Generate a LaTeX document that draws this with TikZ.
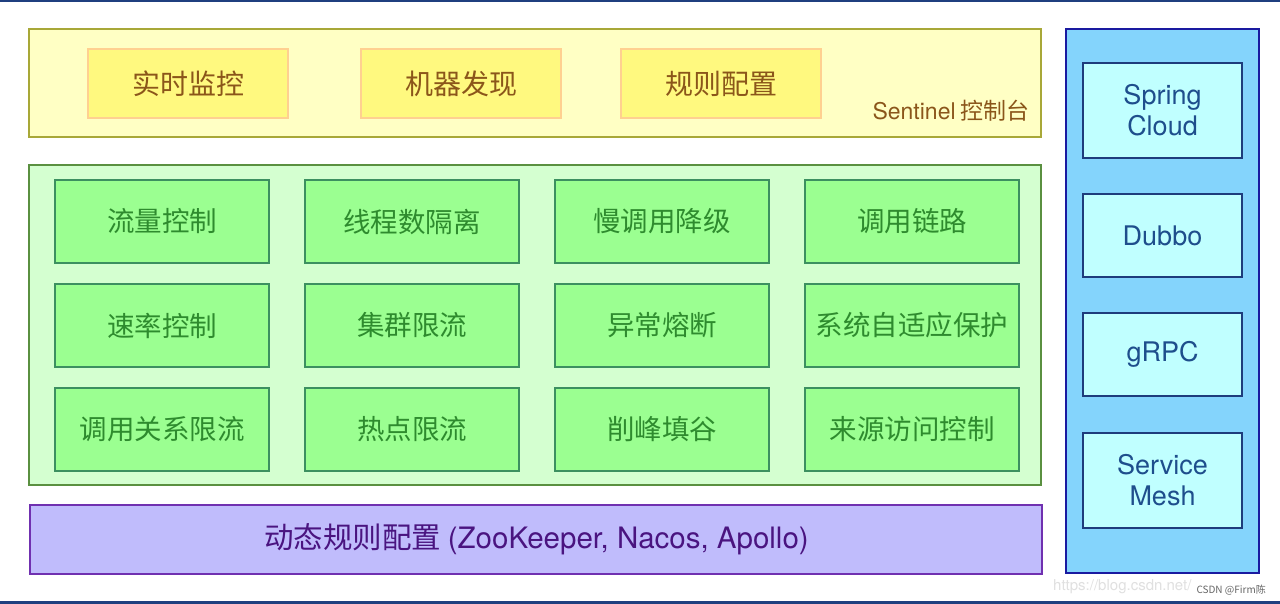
\documentclass[tikz,border=0pt]{standalone}
\usepackage{fontspec}
\setmainfont{Noto Sans CJK SC}
\newfontfamily\lat{TeX Gyre Heros}
\begin{document}
\begin{tikzpicture}[x=1pt,y=-1pt,
  ybox/.style={draw=ybd, fill=yin, line width=1.4pt, minimum width=200pt, minimum height=69pt, text=ytx, font=\fontsize{28}{30}\selectfont, inner sep=0pt},
  gbox/.style={draw=gbd, fill=gin, line width=1.4pt, minimum width=214pt, minimum height=83pt, text=gtx, font=\fontsize{27.5}{30}\selectfont, inner sep=0pt},
  bbox/.style={draw=bbd, fill=bin, line width=1.4pt, minimum width=159pt, text=btx, font=\lat\fontsize{27}{31}\selectfont, align=center, inner sep=0pt},
]
\definecolor{yout}{HTML}{FFFFC4}\definecolor{yobd}{HTML}{A8A838}
\definecolor{yin}{HTML}{FFF97F}\definecolor{ybd}{HTML}{FFD090}\definecolor{ytx}{HTML}{8B561A}
\definecolor{gout}{HTML}{D4FFD0}\definecolor{gobd}{HTML}{5A9040}
\definecolor{gin}{HTML}{9BFF91}\definecolor{gbd}{HTML}{3C9060}\definecolor{gtx}{HTML}{2E8B2E}
\definecolor{pin}{HTML}{C0BCFC}\definecolor{pbd}{HTML}{7030B0}\definecolor{ptx}{HTML}{4A1480}
\definecolor{bout}{HTML}{84D4FC}\definecolor{bobd}{HTML}{1A1AA0}
\definecolor{bin}{HTML}{C0FFFF}\definecolor{bbd}{HTML}{1E3C7C}\definecolor{btx}{HTML}{1E4E8C}
\definecolor{edge}{HTML}{1F3F7F}

\useasboundingbox (0,0) rectangle (1280,604);
\fill[white] (0,0) rectangle (1280,604);
\fill[edge] (0,0) rectangle (1280,2.5);
\fill[edge] (0,601) rectangle (1280,604);

% Sentinel console
\draw[draw=yobd, fill=yout, line width=1.6pt] (29,29) rectangle (1041,137);
\node[ybox] (mon) at (188,83.5) {实时监控};
\node[ybox] (disc) at (461,83.5) {机器发现};
\node[ybox] (rule) at (721,83.5) {规则配置};
\node[anchor=east, text=ytx, font=\fontsize{23}{26}\selectfont, inner sep=0pt] (console) at (1030,111) {{\lat Sentinel} 控制台};

% core features
\draw[draw=gobd, fill=gout, line width=1.6pt] (29,165) rectangle (1041,485);
\foreach \t [count=\i from 0] in {流量控制,线程数隔离,慢调用降级,调用链路}
  \node[gbox] (r1c\i) at (162+250*\i,221.5) {\t};
\foreach \t [count=\i from 0] in {速率控制,集群限流,异常熔断,系统自适应保护}
  \node[gbox] (r2c\i) at (162+250*\i,325.5) {\t};
\foreach \t [count=\i from 0] in {调用关系限流,热点限流,削峰填谷,来源访问控制}
  \node[gbox] (r3c\i) at (162+250*\i,429.5) {\t};

% dynamic rule config
\node[draw=pbd, fill=pin, line width=1.6pt, minimum width=1012pt, minimum height=69pt, inner sep=0pt, anchor=north west] (dyn) at (29,504) {};
\node[text=ptx, font=\fontsize{29.5}{32}\selectfont, inner sep=0pt] (dyntext) at (536.5,539) {动态规则配置 {\lat(ZooKeeper, Nacos, Apollo)}};

% frameworks
\draw[draw=bobd, fill=bout, line width=1.6pt] (1066,29) rectangle (1259,573);
\node[bbox, minimum height=95pt] (sc) at (1162.5,110.5) {Spring\\Cloud};
\node[bbox, minimum height=83pt] (dubbo) at (1162.5,235.5) {Dubbo};
\node[bbox, minimum height=83pt] (grpc) at (1162.5,354.5) {gRPC};
\node[bbox, minimum height=95pt] (mesh) at (1162.5,480.5) {Service\\Mesh};

% watermark
\node[anchor=west, text=black!12, font=\lat\fontsize{15}{18}\selectfont, inner sep=0pt] (url) at (1053,587) {https://blog.csdn.net/};
\node[anchor=east, text=black!60, font=\fontsize{10}{12}\selectfont, inner sep=0pt] (csdn) at (1266,590) {CSDN @Firm陈};
\end{tikzpicture}
\end{document}
